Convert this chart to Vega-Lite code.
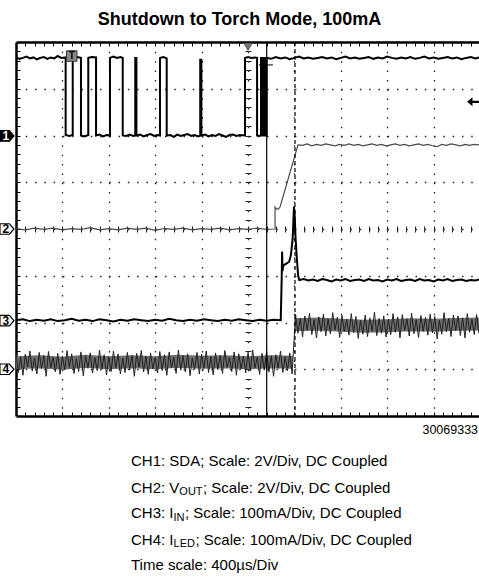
{
"$schema": "https://vega.github.io/schema/vega-lite/v6.json",
"autosize": {"type": "none"},
"padding": {"left": 16, "top": 42, "right": 0, "bottom": 166},
"width": 463,
"height": 374,
"background": "white",
"config": {"view": {"stroke": null}},
"title": {"text": "Shutdown to Torch Mode, 100mA", "font": "Liberation Sans", "fontSize": 18, "fontWeight": "bold", "color": "#000", "anchor": "middle", "dx": -8, "offset": -2, "baseline": "alphabetic"},
"datasets": {
"ch1": [{"t":0,"v":3.67},{"t":30,"v":3.64},{"t":60,"v":3.66},{"t":90,"v":3.69},{"t":120,"v":3.65},{"t":150,"v":3.67},{"t":180,"v":3.63},{"t":210,"v":3.66},{"t":240,"v":3.68},{"t":270,"v":3.64},{"t":300,"v":3.67},{"t":330,"v":3.65},{"t":360,"v":3.70},{"t":390,"v":3.66},{"t":428,"v":3.67},
{"t":428,"v":2.01},{"t":460,"v":1.99},{"t":489,"v":2.01},
{"t":489,"v":3.67},{"t":525,"v":3.68},{"t":560,"v":3.66},
{"t":560,"v":2.0},{"t":590,"v":1.98},{"t":623,"v":2.01},
{"t":623,"v":3.66},{"t":655,"v":3.68},{"t":690,"v":3.67},
{"t":690,"v":2.0},{"t":720,"v":2.02},{"t":750,"v":1.98},{"t":780,"v":2.01},{"t":810,"v":2.0},
{"t":810,"v":3.66},{"t":840,"v":3.69},{"t":870,"v":3.66},{"t":900,"v":3.68},{"t":920,"v":3.66},
{"t":920,"v":2.0},{"t":950,"v":1.99},{"t":980,"v":2.02},{"t":1010,"v":1.99},{"t":1028,"v":2.0},
{"t":1028,"v":3.66},{"t":1038,"v":3.66},
{"t":1038,"v":2.0},{"t":1070,"v":2.02},{"t":1100,"v":1.98},{"t":1130,"v":2.01},{"t":1160,"v":2.03},{"t":1190,"v":1.99},{"t":1220,"v":2.01},{"t":1241,"v":2.0},
{"t":1241,"v":3.66},{"t":1270,"v":3.68},{"t":1299,"v":3.65},
{"t":1299,"v":2.0},{"t":1330,"v":2.01},{"t":1360,"v":1.97},{"t":1390,"v":2.02},{"t":1420,"v":1.99},{"t":1450,"v":2.01},{"t":1480,"v":2.03},{"t":1510,"v":1.99},{"t":1540,"v":2.01},{"t":1570,"v":1.98},{"t":1588,"v":2.0},
{"t":1588,"v":3.62},{"t":1598,"v":3.62},
{"t":1598,"v":2.0},{"t":1630,"v":2.02},{"t":1660,"v":1.98},{"t":1690,"v":2.01},{"t":1720,"v":1.99},{"t":1750,"v":2.03},{"t":1780,"v":2.0},{"t":1810,"v":1.97},{"t":1840,"v":2.01},{"t":1870,"v":2.02},{"t":1900,"v":1.99},{"t":1930,"v":2.01},{"t":1974,"v":2.0},
{"t":1974,"v":3.66},{"t":2000,"v":3.68},{"t":2030,"v":3.66},{"t":2060,"v":3.67},{"t":2078,"v":3.66},
{"t":2078,"v":2.0},{"t":2095,"v":1.99},{"t":2112,"v":2.0},
{"t":2112,"v":3.66},{"t":2124,"v":3.66},{"t":2124,"v":2.0},{"t":2132,"v":2.0},{"t":2132,"v":3.66},{"t":2140,"v":3.66},{"t":2140,"v":2.0},{"t":2148,"v":2.0},{"t":2148,"v":3.66},{"t":2155,"v":3.66},{"t":2155,"v":2.0},{"t":2161,"v":2.0},{"t":2161,"v":3.66},
{"t":2200,"v":3.64},{"t":2240,"v":3.68},{"t":2280,"v":3.65},{"t":2320,"v":3.67},{"t":2360,"v":3.63},{"t":2400,"v":3.66},{"t":2440,"v":3.69},{"t":2480,"v":3.65},{"t":2520,"v":3.67},{"t":2560,"v":3.64},{"t":2600,"v":3.66},{"t":2640,"v":3.68},{"t":2680,"v":3.65},{"t":2720,"v":3.67},{"t":2760,"v":3.63},{"t":2800,"v":3.66},{"t":2840,"v":3.69},{"t":2880,"v":3.65},{"t":2920,"v":3.67},{"t":2960,"v":3.64},{"t":3000,"v":3.66},{"t":3040,"v":3.68},{"t":3080,"v":3.64},{"t":3120,"v":3.67},{"t":3160,"v":3.65},{"t":3200,"v":3.69},{"t":3240,"v":3.66},{"t":3280,"v":3.64},{"t":3320,"v":3.67},{"t":3360,"v":3.65},{"t":3400,"v":3.68},{"t":3440,"v":3.64},{"t":3480,"v":3.66},{"t":3520,"v":3.69},{"t":3560,"v":3.65},{"t":3600,"v":3.67},{"t":3640,"v":3.64},{"t":3680,"v":3.66},{"t":3720,"v":3.68},{"t":3760,"v":3.65},{"t":3800,"v":3.67},{"t":3840,"v":3.63},{"t":3880,"v":3.66},{"t":3920,"v":3.68},{"t":3960,"v":3.65},{"t":3991,"v":3.67}],
"ch2": [{"t":0,"v":0.01},{"t":80,"v":-0.02},{"t":160,"v":0.02},{"t":240,"v":-0.01},{"t":320,"v":0.02},{"t":400,"v":-0.02},{"t":480,"v":0.01},{"t":560,"v":-0.01},{"t":640,"v":0.03},{"t":720,"v":-0.02},{"t":800,"v":0.01},{"t":880,"v":-0.02},{"t":960,"v":0.02},{"t":1040,"v":-0.01},{"t":1120,"v":0.02},{"t":1200,"v":-0.03},{"t":1280,"v":0.01},{"t":1360,"v":-0.01},{"t":1440,"v":0.02},{"t":1520,"v":-0.02},{"t":1600,"v":0.01},{"t":1680,"v":-0.01},{"t":1760,"v":0.02},{"t":1840,"v":-0.02},{"t":1920,"v":0.01},{"t":2000,"v":-0.01},{"t":2080,"v":0.02},{"t":2160,"v":-0.01},{"t":2233,"v":0.0},
{"t":2233,"v":0.47},{"t":2250,"v":0.42},{"t":2262,"v":0.43},{"t":2276,"v":0.47},{"t":2431,"v":1.80},
{"t":2470,"v":1.79},{"t":2510,"v":1.82},{"t":2550,"v":1.78},{"t":2590,"v":1.81},{"t":2630,"v":1.79},{"t":2670,"v":1.82},{"t":2710,"v":1.80},{"t":2750,"v":1.78},{"t":2790,"v":1.81},{"t":2830,"v":1.79},{"t":2870,"v":1.82},{"t":2910,"v":1.79},{"t":2950,"v":1.81},{"t":2990,"v":1.78},{"t":3030,"v":1.80},{"t":3070,"v":1.82},{"t":3110,"v":1.79},{"t":3150,"v":1.81},{"t":3190,"v":1.78},{"t":3230,"v":1.80},{"t":3270,"v":1.82},{"t":3310,"v":1.79},{"t":3350,"v":1.81},{"t":3390,"v":1.78},{"t":3430,"v":1.80},{"t":3470,"v":1.82},{"t":3510,"v":1.79},{"t":3550,"v":1.81},{"t":3590,"v":1.78},{"t":3630,"v":1.76},{"t":3670,"v":1.81},{"t":3710,"v":1.79},{"t":3750,"v":1.82},{"t":3790,"v":1.80},{"t":3830,"v":1.78},{"t":3870,"v":1.81},{"t":3910,"v":1.79},{"t":3950,"v":1.81},{"t":3991,"v":1.80}],
"ch3": [{"t":0,"v":-1.95},{"t":60,"v":-1.93},{"t":120,"v":-1.97},{"t":180,"v":-1.94},{"t":240,"v":-1.96},{"t":300,"v":-1.93},{"t":360,"v":-1.97},{"t":420,"v":-1.95},{"t":480,"v":-1.92},{"t":540,"v":-1.96},{"t":600,"v":-1.94},{"t":660,"v":-1.97},{"t":720,"v":-1.93},{"t":780,"v":-1.95},{"t":840,"v":-1.98},{"t":900,"v":-1.94},{"t":960,"v":-1.96},{"t":1020,"v":-1.93},{"t":1080,"v":-1.95},{"t":1140,"v":-1.97},{"t":1200,"v":-1.94},{"t":1260,"v":-1.96},{"t":1320,"v":-1.92},{"t":1380,"v":-1.95},{"t":1440,"v":-1.97},{"t":1500,"v":-1.94},{"t":1560,"v":-1.96},{"t":1620,"v":-1.93},{"t":1680,"v":-1.95},{"t":1740,"v":-1.97},{"t":1800,"v":-1.94},{"t":1860,"v":-1.96},{"t":1920,"v":-1.93},{"t":1980,"v":-1.95},{"t":2040,"v":-1.97},{"t":2100,"v":-1.94},{"t":2160,"v":-1.96},{"t":2220,"v":-1.94},{"t":2282,"v":-1.95},
{"t":2290,"v":-1.09},{"t":2294,"v":-0.48},{"t":2297,"v":-0.9},{"t":2305,"v":-0.78},{"t":2330,"v":-0.74},{"t":2355,"v":-0.70},{"t":2370,"v":-0.55},{"t":2385,"v":-0.2},{"t":2396,"v":0.48},{"t":2402,"v":0.3},{"t":2410,"v":-0.2},{"t":2420,"v":-0.6},{"t":2432,"v":-1.0},{"t":2442,"v":-1.09},
{"t":2480,"v":-1.07},{"t":2520,"v":-1.10},{"t":2560,"v":-1.08},{"t":2600,"v":-1.11},{"t":2640,"v":-1.07},{"t":2680,"v":-1.09},{"t":2720,"v":-1.12},{"t":2760,"v":-1.08},{"t":2800,"v":-1.10},{"t":2840,"v":-1.07},{"t":2880,"v":-1.11},{"t":2920,"v":-1.09},{"t":2960,"v":-1.08},{"t":3000,"v":-1.11},{"t":3040,"v":-1.07},{"t":3080,"v":-1.10},{"t":3120,"v":-1.09},{"t":3160,"v":-1.12},{"t":3200,"v":-1.08},{"t":3240,"v":-1.10},{"t":3280,"v":-1.07},{"t":3320,"v":-1.11},{"t":3360,"v":-1.09},{"t":3400,"v":-1.08},{"t":3440,"v":-1.11},{"t":3480,"v":-1.07},{"t":3520,"v":-1.10},{"t":3560,"v":-1.09},{"t":3600,"v":-1.12},{"t":3640,"v":-1.08},{"t":3680,"v":-1.10},{"t":3720,"v":-1.07},{"t":3760,"v":-1.11},{"t":3800,"v":-1.09},{"t":3840,"v":-1.08},{"t":3880,"v":-1.11},{"t":3920,"v":-1.09},{"t":3960,"v":-1.10},{"t":3991,"v":-1.08}],
"ch4c": [{"g":"a","t":0,"v":-2.86},{"g":"a","t":200,"v":-2.84},{"g":"a","t":400,"v":-2.87},{"g":"a","t":600,"v":-2.83},{"g":"a","t":800,"v":-2.86},{"g":"a","t":1000,"v":-2.84},{"g":"a","t":1200,"v":-2.86},{"g":"a","t":1400,"v":-2.83},{"g":"a","t":1600,"v":-2.85},{"g":"a","t":1800,"v":-2.84},{"g":"a","t":2000,"v":-2.86},{"g":"a","t":2200,"v":-2.84},{"g":"a","t":2386,"v":-2.85},
{"g":"b","t":2402,"v":-2.05},{"g":"b","t":2600,"v":-2.03},{"g":"b","t":2800,"v":-2.06},{"g":"b","t":3000,"v":-2.08},{"g":"b","t":3200,"v":-2.07},{"g":"b","t":3400,"v":-2.05},{"g":"b","t":3600,"v":-2.06},{"g":"b","t":3800,"v":-2.04},{"g":"b","t":3991,"v":-2.03}],
"ch4": [{"t":0,"v":-2.65},{"t":20,"v":-3.07},{"t":40,"v":-2.73},{"t":60,"v":-3.13},{"t":80,"v":-2.68},{"t":100,"v":-2.95},{"t":120,"v":-2.61},{"t":140,"v":-3.04},{"t":160,"v":-2.76},{"t":180,"v":-3.10},{"t":200,"v":-2.64},{"t":220,"v":-2.99},{"t":240,"v":-2.70},{"t":260,"v":-3.15},{"t":280,"v":-2.62},{"t":300,"v":-2.97},{"t":320,"v":-2.74},{"t":340,"v":-3.06},{"t":360,"v":-2.66},{"t":380,"v":-3.11},{"t":400,"v":-2.72},{"t":420,"v":-3.01},{"t":440,"v":-2.60},{"t":460,"v":-2.96},{"t":480,"v":-2.67},{"t":500,"v":-3.09},{"t":520,"v":-2.77},{"t":540,"v":-3.05},{"t":560,"v":-2.63},{"t":580,"v":-3.14},{"t":600,"v":-2.71},{"t":620,"v":-2.98},{"t":640,"v":-2.65},{"t":660,"v":-3.08},{"t":680,"v":-2.75},{"t":700,"v":-3.03},{"t":720,"v":-2.59},{"t":740,"v":-3.00},{"t":760,"v":-2.69},{"t":780,"v":-3.12},
{"t":800,"v":-2.73},{"t":820,"v":-3.05},{"t":840,"v":-2.61},{"t":860,"v":-2.97},{"t":880,"v":-2.67},{"t":900,"v":-3.10},{"t":920,"v":-2.76},{"t":940,"v":-3.07},{"t":960,"v":-2.64},{"t":980,"v":-3.01},{"t":1000,"v":-2.70},{"t":1020,"v":-3.15},{"t":1040,"v":-2.66},{"t":1060,"v":-2.96},{"t":1080,"v":-2.60},{"t":1100,"v":-3.06},{"t":1120,"v":-2.72},{"t":1140,"v":-3.11},{"t":1160,"v":-2.65},{"t":1180,"v":-2.99},{"t":1200,"v":-2.75},{"t":1220,"v":-3.08},{"t":1240,"v":-2.62},{"t":1260,"v":-3.03},{"t":1280,"v":-2.69},{"t":1300,"v":-3.13},{"t":1320,"v":-2.63},{"t":1340,"v":-2.97},{"t":1360,"v":-2.74},{"t":1380,"v":-3.09},{"t":1400,"v":-2.59},{"t":1420,"v":-3.02},{"t":1440,"v":-2.71},{"t":1460,"v":-3.06},{"t":1480,"v":-2.67},{"t":1500,"v":-3.14},{"t":1520,"v":-2.76},{"t":1540,"v":-3.00},{"t":1560,"v":-2.64},{"t":1580,"v":-3.10},
{"t":1600,"v":-2.68},{"t":1620,"v":-2.98},{"t":1640,"v":-2.61},{"t":1660,"v":-3.07},{"t":1680,"v":-2.73},{"t":1700,"v":-3.12},{"t":1720,"v":-2.65},{"t":1740,"v":-3.01},{"t":1760,"v":-2.70},{"t":1780,"v":-3.09},{"t":1800,"v":-2.60},{"t":1820,"v":-2.96},{"t":1840,"v":-2.75},{"t":1860,"v":-3.05},{"t":1880,"v":-2.63},{"t":1900,"v":-3.13},{"t":1920,"v":-2.67},{"t":1940,"v":-2.99},{"t":1960,"v":-2.72},{"t":1980,"v":-3.08},{"t":2000,"v":-2.64},{"t":2020,"v":-3.04},{"t":2040,"v":-2.59},{"t":2060,"v":-2.97},{"t":2080,"v":-2.74},{"t":2100,"v":-3.11},{"t":2120,"v":-2.66},{"t":2140,"v":-3.02},{"t":2160,"v":-2.62},{"t":2180,"v":-3.06},{"t":2200,"v":-2.71},{"t":2220,"v":-3.15},{"t":2240,"v":-2.69},{"t":2260,"v":-2.98},{"t":2280,"v":-2.61},{"t":2300,"v":-3.07},{"t":2320,"v":-2.73},{"t":2340,"v":-3.03},{"t":2360,"v":-2.65},{"t":2380,"v":-3.10},
{"t":2395,"v":-2.45},
{"t":2410,"v":-1.83},{"t":2430,"v":-2.23},{"t":2450,"v":-1.91},{"t":2470,"v":-2.31},{"t":2490,"v":-1.86},{"t":2510,"v":-2.17},{"t":2530,"v":-1.80},{"t":2550,"v":-2.26},{"t":2570,"v":-1.94},{"t":2590,"v":-2.33},{"t":2610,"v":-1.88},{"t":2630,"v":-2.20},{"t":2650,"v":-1.82},{"t":2670,"v":-2.29},{"t":2690,"v":-1.92},{"t":2710,"v":-2.24},{"t":2730,"v":-1.79},{"t":2750,"v":-2.16},{"t":2770,"v":-1.89},{"t":2790,"v":-2.32},{"t":2810,"v":-1.85},{"t":2830,"v":-2.19},{"t":2850,"v":-1.93},{"t":2870,"v":-2.27},{"t":2890,"v":-1.81},{"t":2910,"v":-2.22},{"t":2930,"v":-1.87},{"t":2950,"v":-2.34},{"t":2970,"v":-1.95},{"t":2990,"v":-2.25},{"t":3010,"v":-1.84},{"t":3030,"v":-2.30},{"t":3050,"v":-1.90},{"t":3070,"v":-2.18},{"t":3090,"v":-1.78},{"t":3110,"v":-2.28},{"t":3130,"v":-1.91},{"t":3150,"v":-2.23},{"t":3170,"v":-1.86},{"t":3190,"v":-2.31},
{"t":3210,"v":-1.93},{"t":3230,"v":-2.26},{"t":3250,"v":-1.81},{"t":3270,"v":-2.21},{"t":3290,"v":-1.88},{"t":3310,"v":-2.33},{"t":3330,"v":-1.83},{"t":3350,"v":-2.17},{"t":3370,"v":-1.92},{"t":3390,"v":-2.29},{"t":3410,"v":-1.80},{"t":3430,"v":-2.24},{"t":3450,"v":-1.94},{"t":3470,"v":-2.32},{"t":3490,"v":-1.85},{"t":3510,"v":-2.19},{"t":3530,"v":-1.89},{"t":3550,"v":-2.27},{"t":3570,"v":-1.82},{"t":3590,"v":-2.22},{"t":3610,"v":-1.87},{"t":3630,"v":-2.35},{"t":3650,"v":-1.95},{"t":3670,"v":-2.25},{"t":3690,"v":-1.79},{"t":3710,"v":-2.20},{"t":3730,"v":-1.91},{"t":3750,"v":-2.30},{"t":3770,"v":-1.84},{"t":3790,"v":-2.18},{"t":3810,"v":-1.86},{"t":3830,"v":-2.28},{"t":3850,"v":-1.90},{"t":3870,"v":-2.33},{"t":3890,"v":-1.81},{"t":3910,"v":-2.21},{"t":3930,"v":-1.93},{"t":3950,"v":-2.26},{"t":3970,"v":-1.83},{"t":3990,"v":-2.23}],
"cur": [{"t":2161,"k":"solid"},{"t":2405,"k":"dashed"}],
"mk": [{"id":"1","t":-78,"v":1.99},{"id":"2","t":-78,"v":0.0},{"id":"3","t":-78,"v":-1.96},{"id":"4","t":-78,"v":-3.0}],
"cap": [
{"s":"30069333","t":3983,"v":-4.39,"k":"code"},
{"s":"CH1: SDA; Scale: 2V/Div, DC Coupled","t":991,"v":-5.08,"k":"main"},
{"s":"CH2: V","t":991,"v":-5.64,"k":"main"},
{"s":"OUT","t":1408,"v":-5.70,"k":"sub"},
{"s":"; Scale: 2V/Div, DC Coupled","t":1612,"v":-5.64,"k":"main"},
{"s":"CH3: I","t":991,"v":-6.19,"k":"main"},
{"s":"IN","t":1358,"v":-6.25,"k":"sub"},
{"s":"; Scale: 100mA/Div, DC Coupled","t":1457,"v":-6.19,"k":"main"},
{"s":"CH4: I","t":991,"v":-6.75,"k":"main"},
{"s":"LED","t":1358,"v":-6.81,"k":"sub"},
{"s":"; Scale: 100mA/Div, DC Coupled","t":1547,"v":-6.75,"k":"main"},
{"s":"Time scale: 400µs/Div","t":991,"v":-7.30,"k":"main"}
]
},
"resolve": {"axis": {"x": "independent", "y": "independent"}},
"layer": [
{"data": {"name": "ch4c"}, "mark": {"type": "line", "color": "#6e6e6e", "strokeWidth": 13},
 "encoding": {
  "x": {"field": "t", "type": "quantitative", "scale": {"domain": [0, 3991], "nice": false, "zero": false},
        "axis": {"orient": "bottom", "values": [400,800,1200,1600,2000,2400,2800,3200,3600], "grid": true, "gridDash": [1.5, 7.85], "gridColor": "#222", "gridWidth": 1.3, "domain": false, "ticks": false, "labels": false, "title": null}},
  "y": {"field": "v", "type": "quantitative", "scale": {"domain": [-4, 4], "nice": false, "zero": false},
        "axis": {"orient": "left", "values": [-3,-2,-1,0,1,2,3], "grid": true, "gridDash": [1.5, 7.78], "gridColor": "#222", "gridWidth": 1.3, "domain": false, "ticks": false, "labels": false, "title": null}},
  "detail": {"field": "g", "type": "nominal"},
  "order": {"value": null}}},
{"data": {"name": "ch4"}, "mark": {"type": "line", "color": "#222", "strokeWidth": 1},
 "encoding": {
  "x": {"field": "t", "type": "quantitative",
        "axis": {"orient": "bottom", "values": [80,160,240,320,400,480,560,640,720,800,880,960,1040,1120,1200,1280,1360,1440,1520,1600,1680,1760,1840,1920,2000,2080,2160,2240,2320,2400,2480,2560,2640,2720,2800,2880,2960,3040,3120,3200,3280,3360,3440,3520,3600,3680,3760,3840,3920], "grid": false, "domain": true, "domainColor": "#000", "domainWidth": 2.5, "ticks": true, "tickSize": -4, "tickColor": "#000", "tickWidth": 1, "labels": false, "title": null}},
  "y": {"field": "v", "type": "quantitative",
        "axis": {"orient": "left", "values": [-3.8,-3.6,-3.4,-3.2,-3,-2.8,-2.6,-2.4,-2.2,-2,-1.8,-1.6,-1.4,-1.2,-1,-0.8,-0.6,-0.4,-0.2,0,0.2,0.4,0.6,0.8,1,1.2,1.4,1.6,1.8,2,2.2,2.4,2.6,2.8,3,3.2,3.4,3.6,3.8], "grid": false, "domain": true, "domainColor": "#000", "domainWidth": 2.5, "ticks": true, "tickSize": -4, "tickColor": "#000", "tickWidth": 1, "labels": false, "title": null}},
  "order": {"value": null}}},
{"data": {"name": "ch2"}, "mark": {"type": "line", "color": "#4a4a4a", "strokeWidth": 1.2},
 "encoding": {
  "x": {"field": "t", "type": "quantitative",
        "axis": {"orient": "top", "values": [80,160,240,320,400,480,560,640,720,800,880,960,1040,1120,1200,1280,1360,1440,1520,1600,1680,1760,1840,1920,2000,2080,2160,2240,2320,2400,2480,2560,2640,2720,2800,2880,2960,3040,3120,3200,3280,3360,3440,3520,3600,3680,3760,3840,3920], "grid": false, "domain": true, "domainColor": "#000", "domainWidth": 2.5, "ticks": true, "tickSize": -4, "tickColor": "#000", "tickWidth": 1, "labels": false, "title": null}},
  "y": {"field": "v", "type": "quantitative",
        "axis": {"orient": "left", "offset": -232, "values": [-3.8,-3.6,-3.4,-3.2,-3,-2.8,-2.6,-2.4,-2.2,-2,-1.8,-1.6,-1.4,-1.2,-1,-0.8,-0.6,-0.4,-0.2,0,0.2,0.4,0.6,0.8,1,1.2,1.4,1.6,1.8,2,2.2,2.4,2.6,2.8,3,3.2,3.4,3.6,3.8], "grid": false, "domain": false, "ticks": true, "tickSize": 3, "tickColor": "#222", "tickWidth": 1, "labels": false, "title": null}},
  "order": {"value": null}}},
{"data": {"name": "ch3"}, "mark": {"type": "line", "color": "#000", "strokeWidth": 2},
 "encoding": {
  "x": {"field": "t", "type": "quantitative",
        "axis": {"orient": "bottom", "offset": -187, "values": [80,160,240,320,400,480,560,640,720,800,880,960,1040,1120,1200,1280,1360,1440,1520,1600,1680,1760,1840,1920,2000,2080,2160,2240,2320,2400,2480,2560,2640,2720,2800,2880,2960,3040,3120,3200,3280,3360,3440,3520,3600,3680,3760,3840,3920], "grid": false, "domain": false, "ticks": true, "tickSize": 3, "tickColor": "#222", "tickWidth": 1, "labels": false, "title": null}},
  "y": {"field": "v", "type": "quantitative",
        "axis": {"orient": "left", "offset": -232, "values": [-3.8,-3.6,-3.4,-3.2,-3,-2.8,-2.6,-2.4,-2.2,-2,-1.8,-1.6,-1.4,-1.2,-1,-0.8,-0.6,-0.4,-0.2,0,0.2,0.4,0.6,0.8,1,1.2,1.4,1.6,1.8,2,2.2,2.4,2.6,2.8,3,3.2,3.4,3.6,3.8], "grid": false, "domain": false, "ticks": true, "tickSize": -3, "tickColor": "#222", "tickWidth": 1, "labels": false, "title": null}},
  "order": {"value": null}}},
{"data": {"name": "ch1"}, "mark": {"type": "line", "color": "#000", "strokeWidth": 2},
 "encoding": {
  "x": {"field": "t", "type": "quantitative",
        "axis": {"orient": "bottom", "offset": -187, "values": [80,160,240,320,400,480,560,640,720,800,880,960,1040,1120,1200,1280,1360,1440,1520,1600,1680,1760,1840,1920,2000,2080,2160,2240,2320,2400,2480,2560,2640,2720,2800,2880,2960,3040,3120,3200,3280,3360,3440,3520,3600,3680,3760,3840,3920], "grid": false, "domain": false, "ticks": true, "tickSize": -3, "tickColor": "#222", "tickWidth": 1, "labels": false, "title": null}},
  "y": {"field": "v", "type": "quantitative", "axis": null},
  "order": {"value": null}}},
{"data": {"name": "cur"}, "mark": {"type": "rule", "color": "#000", "strokeWidth": 1.2},
 "encoding": {
  "x": {"field": "t", "type": "quantitative", "axis": null},
  "strokeDash": {"field": "k", "type": "nominal", "scale": {"domain": ["solid", "dashed"], "range": [[1, 0], [4, 3]]}, "legend": null}}},
{"data": {"values": [{"t": 480, "v": 3.70}]}, "mark": {"type": "point", "shape": "square", "size": 110, "filled": true, "fill": "#8a8a8a", "stroke": "#333", "strokeWidth": 1, "opacity": 1},
 "encoding": {"x": {"field": "t", "type": "quantitative", "axis": null}, "y": {"field": "v", "type": "quantitative", "axis": null}}},
{"data": {"values": [{"t": 480, "v": 3.70, "s": "T"}]}, "mark": {"type": "text", "font": "Liberation Sans", "fontSize": 10, "fontWeight": "bold", "color": "#000", "baseline": "middle", "align": "center"},
 "encoding": {"x": {"field": "t", "type": "quantitative", "axis": null}, "y": {"field": "v", "type": "quantitative", "axis": null}, "text": {"field": "s"}}},
{"data": {"values": [{"t": 2000, "v": 3.90}]}, "mark": {"type": "point", "shape": "triangle-down", "size": 70, "filled": true, "fill": "#777", "stroke": "#333", "strokeWidth": 0.8, "opacity": 1},
 "encoding": {"x": {"field": "t", "type": "quantitative", "axis": null}, "y": {"field": "v", "type": "quantitative", "axis": null}}},
{"data": {"values": [{"t": 2155, "v": 3.51}]}, "mark": {"type": "point", "shape": "M-1,0H1M0,-1V1", "size": 196, "filled": false, "stroke": "#000", "strokeWidth": 1, "opacity": 1},
 "encoding": {"x": {"field": "t", "type": "quantitative", "axis": null}, "y": {"field": "v", "type": "quantitative", "axis": null}}},
{"data": {"values": [{"t": 3940, "v": 2.72}]}, "mark": {"type": "point", "shape": "M-1,0L-0.1,-0.75L-0.1,-0.2L1,-0.2L1,0.2L-0.1,0.2L-0.1,0.75Z", "size": 144, "filled": true, "fill": "#000", "opacity": 1},
 "encoding": {"x": {"field": "t", "type": "quantitative", "axis": null}, "y": {"field": "v", "type": "quantitative", "axis": null}}},
{"data": {"name": "mk"}, "mark": {"type": "point", "shape": "M-1,-0.75L0.35,-0.75L1,0L0.35,0.75L-1,0.75Z", "size": 196, "filled": true, "stroke": "#000", "strokeWidth": 1.2, "opacity": 1},
 "encoding": {"x": {"field": "t", "type": "quantitative", "axis": null}, "y": {"field": "v", "type": "quantitative", "axis": null},
  "fill": {"condition": {"test": "datum.id == '1'", "value": "#000"}, "value": "#fff"}}},
{"data": {"name": "mk"}, "mark": {"type": "text", "font": "Liberation Sans", "fontSize": 12, "fontWeight": "bold", "baseline": "middle", "align": "center", "dx": -1},
 "encoding": {"x": {"field": "t", "type": "quantitative", "axis": null}, "y": {"field": "v", "type": "quantitative", "axis": null}, "text": {"field": "id"},
  "color": {"condition": {"test": "datum.id == '1'", "value": "#fff"}, "value": "#000"}}},
{"data": {"name": "cap"}, "transform": [{"filter": "datum.k == 'main'"}], "mark": {"type": "text", "font": "Liberation Sans", "fontSize": 15, "color": "#000", "align": "left", "baseline": "alphabetic"},
 "encoding": {"x": {"field": "t", "type": "quantitative", "axis": null}, "y": {"field": "v", "type": "quantitative", "axis": null}, "text": {"field": "s"}}},
{"data": {"name": "cap"}, "transform": [{"filter": "datum.k == 'sub'"}], "mark": {"type": "text", "font": "Liberation Sans", "fontSize": 11, "color": "#000", "align": "left", "baseline": "alphabetic"},
 "encoding": {"x": {"field": "t", "type": "quantitative", "axis": null}, "y": {"field": "v", "type": "quantitative", "axis": null}, "text": {"field": "s"}}},
{"data": {"name": "cap"}, "transform": [{"filter": "datum.k == 'code'"}], "mark": {"type": "text", "font": "Liberation Sans", "fontSize": 12.5, "color": "#000", "align": "right", "baseline": "alphabetic"},
 "encoding": {"x": {"field": "t", "type": "quantitative", "axis": null}, "y": {"field": "v", "type": "quantitative", "axis": null}, "text": {"field": "s"}}}
]
}
